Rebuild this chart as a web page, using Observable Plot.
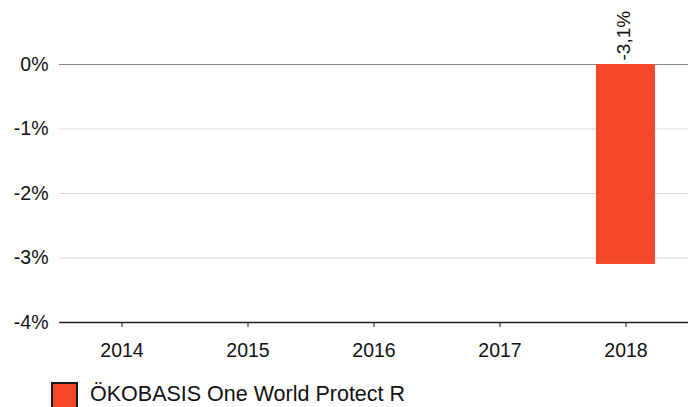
<!DOCTYPE html>
<html>
<head>
<meta charset="utf-8">
<script src="https://cdn.jsdelivr.net/npm/d3@7"></script>
<script src="https://cdn.jsdelivr.net/npm/@observablehq/plot@0.6"></script>
<style>
  body { margin: 0; background: #fff; font-family: "Liberation Sans", Arial, sans-serif; }
  #legend { position: relative; height: 32px; overflow: hidden; }
  #legend .sw { position: absolute; left: 51px; top: 7px; width: 23px; height: 26px; background: #f5472a; border: 2px solid #1a1a1a; }
  #legend .lbl { position: absolute; left: 90px; top: 7px; font-size: 21.5px; line-height: 24px; color: #111; white-space: nowrap; }
</style>
</head>
<body>
<div id="chart"></div>
<div id="legend"><div class="sw"></div><div class="lbl"></div></div>
<script>
const years = ["2014", "2015", "2016", "2017", "2018"];
const values = [null, null, null, null, -3.1];
const labels = ["", "", "", "", "-3,1%"];
const yTicks = [0, -1, -2, -3, -4];
const seriesName = "ÖKOBASIS One World Protect R";
const barColor = "#f5472a";

const data = years.map((y, i) => ({year: y, value: values[i], label: labels[i]}));
const bars = data.filter(d => d.value != null);

const chart = Plot.plot({
  width: 688,
  height: 375,
  marginLeft: 59,
  marginRight: 0,
  marginTop: 64,
  marginBottom: 53,
  style: {fontFamily: "'Liberation Sans', Arial, sans-serif", fontSize: "19.5px", color: "#111", background: "#fff"},
  x: {domain: years, paddingInner: 0.53, paddingOuter: 0.25, label: null, tickSize: 5, tickPadding: 16},
  y: {domain: [-4, 0], ticks: yTicks, tickFormat: d => `${d}%`, label: null, tickSize: 0, tickPadding: 11},
  marks: [
    Plot.ruleY(yTicks.filter(t => t !== 0 && t !== -4), {stroke: "#d9d9d9", strokeWidth: 1}),
    Plot.ruleY([0], {stroke: "#888", strokeWidth: 1}),
    Plot.barY(bars, {x: "year", y: "value", fill: barColor}),
    Plot.ruleY([-4], {stroke: "#222", strokeWidth: 1.5}),
    Plot.text(bars, {x: "year", y: 0, text: "label", rotate: -90, textAnchor: "start", lineAnchor: "middle", dy: -4, dx: -2, fontSize: 19, fill: "#111"})
  ]
});
document.getElementById("chart").appendChild(chart);
document.querySelector("#legend .lbl").textContent = seriesName;
</script>
</body>
</html>
